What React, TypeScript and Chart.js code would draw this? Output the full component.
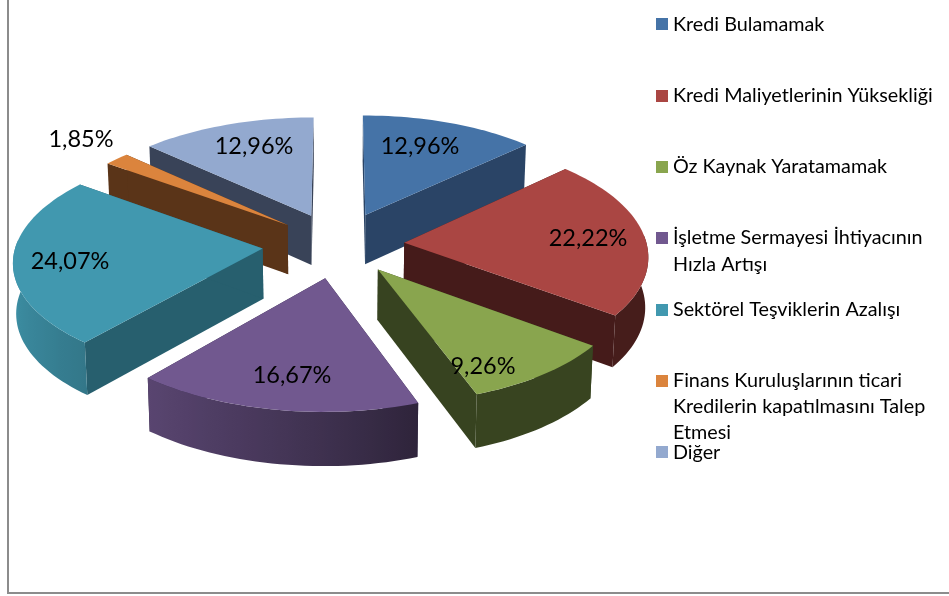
import React, { useEffect, useRef } from "react";
import { Chart, PieController, ArcElement } from "chart.js";

const categories = [
  "Kredi Bulamamak",
  "Kredi Maliyetlerinin Yüksekliği",
  "Öz Kaynak Yaratamamak",
  "İşletme Sermayesi İhtiyacının Hızla Artışı",
  "Sektörel Teşviklerin Azalışı",
  "Finans Kuruluşlarının ticari Kredilerin kapatılmasını Talep Etmesi",
  "Diğer",
];
const values = [12.96, 22.22, 9.26, 16.67, 24.07, 1.85, 12.96];
const valueLabels = ["12,96%", "22,22%", "9,26%", "16,67%", "24,07%", "1,85%", "12,96%"];
const legendLines = [
  ["Kredi Bulamamak"],
  ["Kredi Maliyetlerinin Yüksekliği"],
  ["Öz Kaynak Yaratamamak"],
  ["İşletme Sermayesi İhtiyacının", "Hızla Artışı"],
  ["Sektörel Teşviklerin Azalışı"],
  ["Finans Kuruluşlarının ticari", "Kredilerin kapatılmasını Talep", "Etmesi"],
  ["Diğer"],
];
const topColors = ["#4573a7", "#aa4643", "#89a54e", "#71588f", "#4198af", "#db843d", "#93a9cf"];
const wallColors = ["#2a4466", "#451b1a", "#374320", "#2e2440", "#275f6e", "#5a3418", "#394358"];
const explode = [0.287, 0.27, 0.265, 0.29, 0.305, 0.27, 0.28];
const radiusScale = [1, 1, 1, 0.985, 0.98, 0.98, 0.985];

// layout of texts, in canvas pixels (centre of the text)
const labelAt = [[420, 146], [588, 238], [483, 366], [292, 375], [70, 261], [81, 139], [254, 146]];
const legendY = [[25], [96], [167], [238, 265], [310], [381, 407, 433], [453]];
const swatchY = [18, 90, 161, 232, 304, 375, 446];

// view of the tilted disc
const VIEW = { ax: 247, by: 115, persp: 0.1, skew: 0.012, depth: 50, shrink: 0.99 };
const FONT = "Lato, 'Noto Sans', sans-serif";

function hexShade(hex: string, f: number) {
  const n = parseInt(hex.slice(1), 16);
  const c = [(n >> 16) & 255, (n >> 8) & 255, n & 255].map((v) => Math.round(v * f));
  return `rgb(${c[0]},${c[1]},${c[2]})`;
}

class Arc3D extends ArcElement {
  static id = "arc3d";
  draw(ctx: CanvasRenderingContext2D) {
    const { x, y, startAngle, endAngle } = this as any;
    const idx = (this as any).$idx as number;
    const mid = (startAngle + endAngle) / 2;
    const r = radiusScale[idx];
    const u0 = explode[idx] * Math.cos(mid);
    const v0 = explode[idx] * Math.sin(mid);
    const project = (u: number, v: number) => {
      const w = 1 - VIEW.persp * v;
      const wx = w + VIEW.skew * u;
      return [x + (VIEW.ax * u) / wx, y + (VIEW.by * v) / w, w];
    };
    const top = (a: number) => project(u0 + r * Math.cos(a), v0 + r * Math.sin(a));
    const bottom = (p: number[]) => [x + (p[0] - x) * VIEW.shrink, p[1] + VIEW.depth / Math.pow(p[2], 0.6)];
    const fillPath = (pts: number[][], fill: any) => {
      ctx.beginPath();
      pts.forEach((p, i) => (i ? ctx.lineTo(p[0], p[1]) : ctx.moveTo(p[0], p[1])));
      ctx.closePath();
      ctx.fillStyle = fill;
      ctx.fill();
    };
    const apex = project(u0, v0);
    const wall = wallColors[idx];
    const color = topColors[idx];
    // radial walls
    for (const a of [startAngle, endAngle]) {
      const p = top(a);
      fillPath([apex, p, bottom(p), bottom(apex)], wall);
    }
    // curved wall, one path with a gradient for where it faces
    const steps = Math.max(2, Math.ceil((endAngle - startAngle) / 0.03));
    const angles: number[] = [];
    for (let i = 0; i <= steps; i++) angles.push(startAngle + ((endAngle - startAngle) * i) / steps);
    const seen = angles.filter((a) => Math.sin(a) > -0.1);
    if (seen.length > 1) {
      const upper = seen.map(top);
      const xs = upper.map((p) => p[0]);
      const x0 = Math.min(...xs), x1 = Math.max(...xs);
      const grad = ctx.createLinearGradient(x0, 0, x1, 0);
      seen.forEach((a, i) => {
        const deg = ((a * 180) / Math.PI + 360) % 360; // 0 right, 90 front, 180 left
        const d = Math.abs(deg - 180);
        const f = Math.max(0.41, 0.95 - 0.54 * Math.pow(Math.min(d, 110) / 110, 1.5));
        grad.addColorStop((xs[i] - x0) / (x1 - x0 || 1), hexShade(color, f));
      });
      fillPath([...upper, ...upper.map(bottom).reverse()], grad);
    }
    // top face
    fillPath([apex, ...angles.map(top)], color);
  }
}

class Pie3DController extends PieController {
  static id = "pie3d";
  static defaults = { ...(PieController as any).defaults, dataElementType: "arc3d" };
  static overrides = (PieController as any).overrides;
  draw() {
    const ctx = (this as any).chart.ctx;
    const arcs = [...(this as any)._cachedMeta.data];
    arcs.forEach((a: any, i: number) => (a.$idx = i));
    const depthOf = (a: any) => Math.sin((a.startAngle + a.endAngle) / 2);
    arcs.sort((a, b) => depthOf(a) - depthOf(b));
    arcs.forEach((a) => a.draw(ctx));
  }
}

Chart.register(PieController, ArcElement, Arc3D as any, Pie3DController as any);

const frame = {
  id: "frame",
  beforeDraw(chart: any) {
    const { ctx } = chart;
    ctx.save();
    ctx.fillStyle = "#ffffff";
    ctx.fillRect(0, 0, 949, 596);
    ctx.strokeStyle = "#8c8c8c";
    ctx.lineWidth = 2;
    ctx.beginPath();
    ctx.moveTo(8, 0);
    ctx.lineTo(8, 593);
    ctx.lineTo(949, 593);
    ctx.stroke();
    ctx.restore();
  },
};

const texts = {
  id: "texts",
  afterDatasetsDraw(chart: any) {
    const { ctx } = chart;
    ctx.save();
    ctx.fillStyle = "#000000";
    ctx.textAlign = "center";
    ctx.textBaseline = "middle";
    ctx.font = `23.5px ${FONT}`;
    valueLabels.forEach((t, i) => ctx.fillText(t, labelAt[i][0], labelAt[i][1]));
    ctx.textAlign = "left";
    ctx.font = `19.75px ${FONT}`;
    legendLines.forEach((lines, i) => {
      ctx.fillStyle = topColors[i];
      ctx.fillRect(656, swatchY[i], 12, 12);
      ctx.fillStyle = "#000000";
      lines.forEach((line, j) => ctx.fillText(line, 673, legendY[i][j]));
    });
    ctx.restore();
  },
};

export default function App() {
  const ref = useRef<HTMLCanvasElement>(null);
  useEffect(() => {
    document.body.style.margin = "0";
    const chart = new Chart(ref.current!, {
      type: "pie3d" as any,
      data: {
        labels: categories,
        datasets: [{ data: values, backgroundColor: topColors, borderWidth: 0 }],
      },
      options: {
        responsive: false,
        animation: false,
        layout: { padding: { right: 273, bottom: 107 } },
        plugins: { legend: { display: false }, tooltip: { enabled: false } },
      } as any,
      plugins: [frame, texts],
    });
    return () => chart.destroy();
  }, []);
  return <canvas ref={ref} width={949} height={596} style={{ display: "block" }} />;
}
